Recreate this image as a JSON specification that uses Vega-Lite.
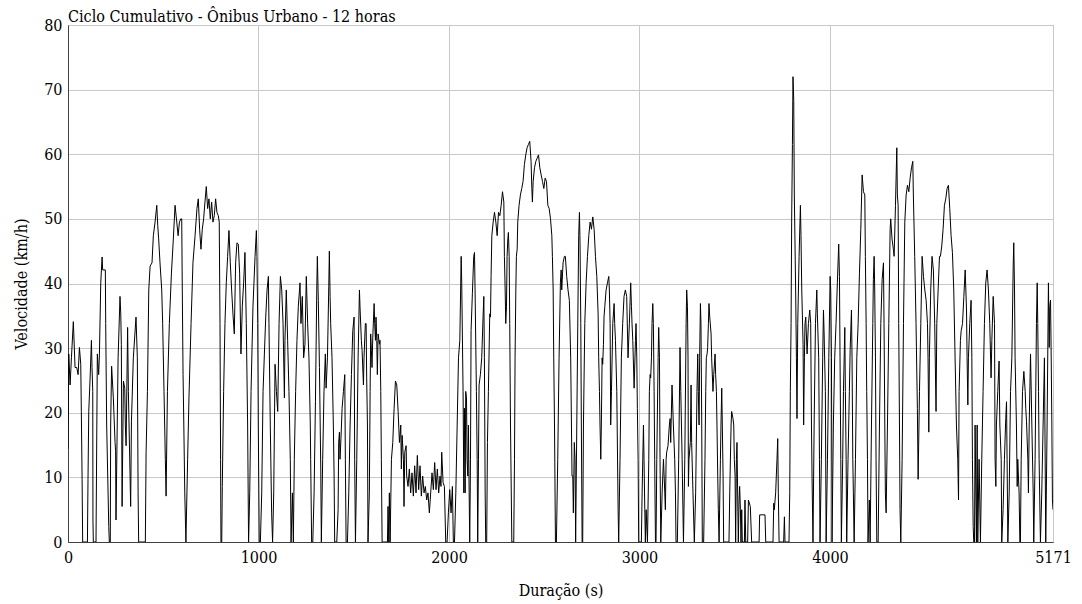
{
"$schema":"https://vega.github.io/schema/vega-lite/v6.json",
"width":985,"height":517,
"autosize":{"type":"none"},
"padding":{"left":68,"top":25,"right":29,"bottom":62},
"background":"white",
"title":{"text":"Ciclo Cumulativo - Ônibus Urbano - 12 horas","anchor":"start","frame":"group","font":"DejaVu Serif Condensed","fontSize":16,"fontWeight":"normal","color":"black","offset":3,"dy":11},
"config":{"view":{"stroke":"#808080","strokeWidth":1},"axis":{"labelFont":"DejaVu Serif Condensed","titleFont":"DejaVu Serif Condensed","labelFontSize":16,"titleFontSize":16,"titleFontWeight":"normal","labelColor":"black","titleColor":"black","domainColor":"#404040","gridColor":"#c8c8c8","gridWidth":1,"ticks":false,"labelFlush":false,"labelOverlap":false}},
"data":{"values":[
{"t":0,"v":14.4},{"t":4,"v":29.1},{"t":11,"v":24.3},{"t":18,"v":28.5},{"t":28,"v":34.1},{"t":37,"v":27},{"t":46,"v":27},{"t":53,"v":25.9},{"t":60,"v":30.1},{"t":67,"v":27.5},{"t":70,"v":20.2},{"t":74,"v":9.7},{"t":77,"v":0},{"t":102,"v":0},{"t":105,"v":9.7},{"t":109,"v":20.2},{"t":116,"v":25.4},{"t":123,"v":31.2},{"t":126,"v":27},{"t":130,"v":23.3},{"t":131,"v":3.4},{"t":133,"v":0},{"t":147,"v":0},{"t":154,"v":29.1},{"t":161,"v":25.9},{"t":165,"v":29.1},{"t":172,"v":40.1},{"t":179,"v":44.1},{"t":182,"v":42.1},{"t":196,"v":42.1},{"t":198,"v":33.8},{"t":203,"v":18.1},{"t":214,"v":2.4},{"t":217,"v":0},{"t":222,"v":0},{"t":224,"v":18.1},{"t":229,"v":27.2},{"t":238,"v":22.3},{"t":247,"v":15.4},{"t":250,"v":14.1},{"t":252,"v":3.4},{"t":263,"v":28.5},{"t":273,"v":38},{"t":277,"v":35.3},{"t":280,"v":30.6},{"t":284,"v":5.5},{"t":291,"v":24.9},{"t":298,"v":23.8},{"t":301,"v":18.1},{"t":305,"v":14.9},{"t":313,"v":33.2},{"t":317,"v":23.3},{"t":329,"v":5.5},{"t":333,"v":18.6},{"t":343,"v":28.5},{"t":357,"v":34.8},{"t":364,"v":28.5},{"t":368,"v":7.6},{"t":371,"v":0},{"t":406,"v":0},{"t":410,"v":13.9},{"t":417,"v":23.3},{"t":424,"v":39},{"t":431,"v":42.7},{"t":441,"v":43.2},{"t":448,"v":47.4},{"t":457,"v":49.5},{"t":466,"v":52.1},{"t":471,"v":49},{"t":476,"v":46.9},{"t":483,"v":43.2},{"t":492,"v":39},{"t":497,"v":33.8},{"t":504,"v":23.3},{"t":511,"v":12.8},{"t":515,"v":7.1},{"t":522,"v":23.3},{"t":532,"v":33.8},{"t":543,"v":41.6},{"t":553,"v":46.9},{"t":562,"v":52.1},{"t":571,"v":49.5},{"t":578,"v":47.4},{"t":585,"v":49.5},{"t":592,"v":50},{"t":597,"v":50},{"t":600,"v":39},{"t":604,"v":25.9},{"t":608,"v":18.1},{"t":613,"v":7.6},{"t":619,"v":0},
{"t":628,"v":12.8},{"t":635,"v":22.3},{"t":646,"v":33.8},{"t":656,"v":43.2},{"t":667,"v":47.4},{"t":677,"v":51.6},{"t":684,"v":53.1},{"t":691,"v":48.4},{"t":698,"v":45.3},{"t":705,"v":48.4},{"t":712,"v":50},{"t":719,"v":52.6},{"t":726,"v":55},{"t":733,"v":51.6},{"t":740,"v":53.1},{"t":747,"v":50},{"t":754,"v":52.6},{"t":761,"v":49.5},{"t":768,"v":50.5},{"t":775,"v":53.1},{"t":782,"v":51},{"t":789,"v":50.5},{"t":794,"v":49.5},{"t":798,"v":33.8},{"t":801,"v":12.8},{"t":803,"v":0},{"t":807,"v":0},{"t":810,"v":8.6},{"t":817,"v":23.3},{"t":824,"v":33.8},{"t":831,"v":40.1},{"t":838,"v":44.2},{"t":845,"v":48.2},{"t":852,"v":43.2},{"t":859,"v":39},{"t":866,"v":35.3},{"t":873,"v":32.2},{"t":880,"v":43.2},{"t":887,"v":46.3},{"t":894,"v":46.1},{"t":901,"v":41.6},{"t":908,"v":29.1},{"t":915,"v":36.4},{"t":922,"v":40.1},{"t":929,"v":44.8},{"t":936,"v":33.8},{"t":943,"v":18.1},{"t":948,"v":0},{"t":954,"v":7.6},{"t":961,"v":23.3},{"t":971,"v":36.4},{"t":982,"v":44.2},{"t":989,"v":48.2},{"t":992,"v":44.2},{"t":996,"v":33.8},{"t":999,"v":18.1},{"t":1004,"v":0},{"t":1010,"v":0},{"t":1017,"v":7.6},{"t":1024,"v":23.3},{"t":1031,"v":29.1},{"t":1038,"v":34.8},{"t":1045,"v":39},{"t":1052,"v":41.1},{"t":1055,"v":33.8},{"t":1062,"v":18.1},{"t":1069,"v":4.5},{"t":1074,"v":0},{"t":1080,"v":7.6},{"t":1087,"v":27.5},{"t":1094,"v":23.3},{"t":1101,"v":20.2},{"t":1108,"v":33.8},{"t":1115,"v":41.1},{"t":1122,"v":39},{"t":1129,"v":33.8},{"t":1136,"v":22.3},{"t":1139,"v":31.2},{"t":1146,"v":39},{"t":1153,"v":31.2},{"t":1160,"v":23.3},{"t":1167,"v":12.8},{"t":1171,"v":0},{"t":1178,"v":7.6},{"t":1183,"v":0},{"t":1188,"v":12.8},{"t":1195,"v":23.3},{"t":1202,"v":31.2},{"t":1209,"v":36.4},{"t":1218,"v":40.1},{"t":1223,"v":33.8},{"t":1230,"v":38},{"t":1237,"v":28.5},{"t":1244,"v":30.6},{"t":1251,"v":41.1},{"t":1258,"v":33.8},{"t":1265,"v":28.5},{"t":1272,"v":18.1},
{"t":1274,"v":12.8},{"t":1279,"v":0},{"t":1285,"v":0},{"t":1292,"v":7.6},{"t":1299,"v":21.7},{"t":1306,"v":39},{"t":1309,"v":44.2},{"t":1314,"v":37.4},{"t":1320,"v":27},{"t":1327,"v":11.3},{"t":1330,"v":0},{"t":1337,"v":12.8},{"t":1344,"v":23.3},{"t":1351,"v":29.1},{"t":1355,"v":23.8},{"t":1362,"v":28.5},{"t":1369,"v":39.5},{"t":1372,"v":45},{"t":1376,"v":38},{"t":1379,"v":33.8},{"t":1386,"v":28.5},{"t":1393,"v":18.1},{"t":1397,"v":10.2},{"t":1400,"v":0},{"t":1411,"v":0},{"t":1418,"v":5},{"t":1421,"v":15.4},{"t":1425,"v":17},{"t":1428,"v":12.8},{"t":1433,"v":16},{"t":1439,"v":20.7},{"t":1446,"v":23.3},{"t":1453,"v":25.9},{"t":1456,"v":12.8},{"t":1460,"v":0},{"t":1467,"v":0},{"t":1474,"v":7.6},{"t":1481,"v":18.1},{"t":1488,"v":25.9},{"t":1495,"v":32.7},{"t":1502,"v":34.8},{"t":1505,"v":12.8},{"t":1509,"v":0},{"t":1516,"v":12.8},{"t":1523,"v":28.5},{"t":1530,"v":39},{"t":1533,"v":36.4},{"t":1540,"v":31.2},{"t":1544,"v":29.6},{"t":1551,"v":24.3},{"t":1554,"v":28.5},{"t":1561,"v":33.8},{"t":1565,"v":33.8},{"t":1568,"v":25.4},{"t":1572,"v":18.1},{"t":1575,"v":0},{"t":1582,"v":7.6},{"t":1586,"v":23.3},{"t":1589,"v":32.2},{"t":1593,"v":29.6},{"t":1596,"v":27},{"t":1600,"v":31.7},{"t":1607,"v":36.9},{"t":1610,"v":33.8},{"t":1614,"v":31.2},{"t":1617,"v":34.8},{"t":1621,"v":31.2},{"t":1624,"v":25.9},{"t":1628,"v":32.2},{"t":1635,"v":30.6},{"t":1638,"v":31.2},{"t":1642,"v":23.3},{"t":1645,"v":12.8},{"t":1649,"v":0},{"t":1677,"v":0},{"t":1680,"v":5.5},{"t":1684,"v":0},{"t":1687,"v":7.6},{"t":1691,"v":0},{"t":1698,"v":12.8},{"t":1705,"v":15.4},{"t":1712,"v":20.7},{"t":1719,"v":24.9},{"t":1726,"v":24.3},{"t":1733,"v":20.2},{"t":1740,"v":15.4},{"t":1747,"v":18.1},{"t":1750,"v":11.3},{"t":1754,"v":16.5},{"t":1761,"v":12.8},{"t":1764,"v":5.5},{"t":1768,"v":13.9},{"t":1775,"v":14.9},{"t":1778,"v":10.2},{"t":1785,"v":8.6},{"t":1792,"v":11.3},{"t":1799,"v":7.6},{"t":1806,"v":10.7},{"t":1813,"v":7.1},{"t":1820,"v":11.8},{"t":1827,"v":7.6},{"t":1834,"v":13.4},{"t":1841,"v":8.1},{"t":1848,"v":11.8},{"t":1855,"v":7.1},{"t":1862,"v":10.2},{"t":1869,"v":7.6},{"t":1876,"v":8.6},{"t":1883,"v":6.5},{"t":1890,"v":7.6},{"t":1897,"v":4.5},{"t":1904,"v":7.6},{"t":1911,"v":10.7},{"t":1918,"v":8.1},{"t":1925,"v":12.3},{"t":1932,"v":8.1},{"t":1939,"v":11.3},{"t":1946,"v":7.6},{"t":1953,"v":10.2},
{"t":1958,"v":8.6},{"t":1962,"v":13.9},{"t":1969,"v":9.2},{"t":1976,"v":8.6},{"t":1983,"v":0},{"t":1990,"v":0},{"t":1997,"v":4.5},{"t":2004,"v":8.1},{"t":2011,"v":4.5},{"t":2018,"v":8.6},{"t":2023,"v":0},{"t":2029,"v":0},{"t":2036,"v":7.6},{"t":2043,"v":18.1},{"t":2050,"v":28.5},{"t":2057,"v":31.2},{"t":2064,"v":44.2},{"t":2067,"v":40.1},{"t":2074,"v":23.3},{"t":2078,"v":7.6},{"t":2081,"v":20.7},{"t":2085,"v":7.6},{"t":2088,"v":23.3},{"t":2092,"v":22.3},{"t":2095,"v":12.8},{"t":2099,"v":10.2},{"t":2102,"v":18.1},{"t":2106,"v":7.6},{"t":2109,"v":0},{"t":2113,"v":12.8},{"t":2116,"v":32.7},{"t":2123,"v":38.5},{"t":2130,"v":44.2},{"t":2134,"v":44.8},{"t":2137,"v":39},{"t":2144,"v":23.3},{"t":2148,"v":12.8},{"t":2151,"v":0},{"t":2155,"v":12.8},{"t":2158,"v":24.3},{"t":2165,"v":25.9},{"t":2172,"v":28.5},{"t":2179,"v":34.8},{"t":2183,"v":38},{"t":2186,"v":28.5},{"t":2190,"v":7.6},{"t":2193,"v":0},{"t":2198,"v":0},{"t":2202,"v":15.4},{"t":2207,"v":23.3},{"t":2214,"v":35.3},{"t":2218,"v":34.8},{"t":2221,"v":41.1},{"t":2225,"v":47.4},{"t":2232,"v":49.5},{"t":2239,"v":51},{"t":2246,"v":49.5},{"t":2253,"v":47.4},{"t":2260,"v":51},{"t":2267,"v":50.5},{"t":2274,"v":52.1},{"t":2281,"v":54.2},{"t":2288,"v":52.6},{"t":2291,"v":44.2},{"t":2295,"v":39},{"t":2298,"v":33.8},{"t":2302,"v":36.4},{"t":2305,"v":44.2},{"t":2309,"v":46.9},{"t":2312,"v":47.9},{"t":2316,"v":44.2},{"t":2319,"v":33.8},{"t":2323,"v":18.1},{"t":2330,"v":0},{"t":2340,"v":0},{"t":2344,"v":12.8},{"t":2347,"v":28.5},{"t":2351,"v":39},{"t":2354,"v":44.2},{"t":2358,"v":45.3},{"t":2361,"v":49.5},{"t":2368,"v":52.1},{"t":2375,"v":53.7},{"t":2382,"v":54.7},{"t":2389,"v":55.8},{"t":2396,"v":58.4},{"t":2403,"v":59.9},{"t":2410,"v":61},{"t":2417,"v":61.5},{"t":2424,"v":62},{"t":2431,"v":58.9},{"t":2435,"v":54.7},{"t":2438,"v":52.6},{"t":2442,"v":55.8},{"t":2449,"v":57.9},{"t":2456,"v":58.9},{"t":2463,"v":59.4},{"t":2470,"v":59.9},{"t":2477,"v":57.9},{"t":2484,"v":56.8},{"t":2491,"v":55.8},{"t":2498,"v":54.7},{"t":2505,"v":56.3},{"t":2512,"v":55.8},{"t":2519,"v":52.1},{"t":2526,"v":51.6},{"t":2533,"v":50},{"t":2540,"v":47.4},{"t":2543,"v":44.2},{"t":2547,"v":39},{"t":2550,"v":28.5},{"t":2554,"v":18.1},{"t":2559,"v":0},{"t":2564,"v":0},{"t":2571,"v":12.8},{"t":2578,"v":28.5},{"t":2585,"v":40.1},{"t":2589,"v":42.1},{"t":2592,"v":39},{"t":2599,"v":43.2},{"t":2606,"v":44.2},
{"t":2611,"v":44.2},{"t":2618,"v":41.1},{"t":2625,"v":39},{"t":2632,"v":37.4},{"t":2639,"v":28.5},{"t":2646,"v":10.2},{"t":2650,"v":10.2},{"t":2653,"v":4.5},{"t":2658,"v":15.4},{"t":2662,"v":12.8},{"t":2665,"v":0},{"t":2671,"v":18.1},{"t":2678,"v":39},{"t":2681,"v":47.4},{"t":2685,"v":51},{"t":2688,"v":46.3},{"t":2692,"v":33.8},{"t":2695,"v":18.1},{"t":2699,"v":0},{"t":2702,"v":0},{"t":2706,"v":18.1},{"t":2713,"v":33.8},{"t":2720,"v":40.1},{"t":2727,"v":44.2},{"t":2734,"v":47.4},{"t":2741,"v":49.5},{"t":2748,"v":48.4},{"t":2755,"v":50.3},{"t":2762,"v":48.4},{"t":2769,"v":44.2},{"t":2776,"v":41.1},{"t":2783,"v":35.3},{"t":2786,"v":28.5},{"t":2790,"v":23.3},{"t":2793,"v":18.1},{"t":2797,"v":12.8},{"t":2800,"v":18.1},{"t":2804,"v":28.5},{"t":2807,"v":27.5},{"t":2811,"v":30.6},{"t":2814,"v":34.8},{"t":2818,"v":36.4},{"t":2825,"v":39},{"t":2832,"v":40.1},{"t":2839,"v":41.1},{"t":2842,"v":39},{"t":2846,"v":33.8},{"t":2849,"v":18.1},{"t":2853,"v":23.3},{"t":2860,"v":33.8},{"t":2867,"v":36.9},{"t":2870,"v":33.8},{"t":2874,"v":31.2},{"t":2881,"v":23.3},{"t":2888,"v":5},{"t":2891,"v":0},{"t":2898,"v":12.8},{"t":2905,"v":28.5},{"t":2912,"v":33.8},{"t":2919,"v":38},{"t":2926,"v":39},{"t":2933,"v":38},{"t":2940,"v":28.5},{"t":2947,"v":33.8},{"t":2954,"v":40.1},{"t":2958,"v":36.4},{"t":2961,"v":33.8},{"t":2965,"v":31.2},{"t":2972,"v":23.8},{"t":2979,"v":31.2},{"t":2982,"v":33.8},{"t":2986,"v":28.5},{"t":2989,"v":20.7},{"t":2993,"v":12.8},{"t":2996,"v":0},{"t":3010,"v":0},{"t":3014,"v":7.6},{"t":3021,"v":18.1},{"t":3024,"v":12.8},{"t":3028,"v":5},{"t":3031,"v":0},{"t":3035,"v":5},{"t":3042,"v":0},{"t":3049,"v":12.8},{"t":3052,"v":23.3},{"t":3056,"v":25.9},{"t":3059,"v":25.4},{"t":3063,"v":28.5},{"t":3066,"v":33.8},{"t":3070,"v":36.9},{"t":3073,"v":33.8},{"t":3077,"v":23.3},{"t":3080,"v":12.8},{"t":3084,"v":0},{"t":3087,"v":0},{"t":3091,"v":12.8},{"t":3098,"v":28.5},{"t":3101,"v":33.2},{"t":3105,"v":28.5},{"t":3108,"v":12.8},{"t":3112,"v":0},{"t":3119,"v":7.6},{"t":3126,"v":12.8},{"t":3133,"v":7.6},{"t":3136,"v":5},{"t":3140,"v":12.8},{"t":3143,"v":13.9},{"t":3150,"v":14.9},{"t":3157,"v":18.1},{"t":3161,"v":19.1},{"t":3164,"v":15.4},{"t":3171,"v":24.3},{"t":3178,"v":18.1},{"t":3185,"v":12.8},{"t":3189,"v":7.6},{"t":3192,"v":0},{"t":3199,"v":0},{"t":3206,"v":12.8},{"t":3213,"v":30.1},{"t":3217,"v":23.3},{"t":3224,"v":12.8},{"t":3231,"v":0},{"t":3238,"v":12.8},{"t":3245,"v":33.8},{"t":3248,"v":39},{"t":3252,"v":36.4},{"t":3255,"v":28.5},{"t":3257,"v":8.6},{"t":3260,"v":12.8},
{"t":3267,"v":15.4},{"t":3271,"v":24.3},{"t":3274,"v":15.4},{"t":3281,"v":7.6},{"t":3288,"v":0},{"t":3295,"v":7.6},{"t":3302,"v":23.3},{"t":3306,"v":29.1},{"t":3309,"v":23.3},{"t":3313,"v":18.1},{"t":3316,"v":28.5},{"t":3320,"v":36.9},{"t":3323,"v":33.8},{"t":3327,"v":18.1},{"t":3330,"v":0},{"t":3337,"v":0},{"t":3344,"v":12.8},{"t":3348,"v":23.3},{"t":3351,"v":28.5},{"t":3355,"v":29.1},{"t":3358,"v":30.1},{"t":3362,"v":33.8},{"t":3365,"v":36.9},{"t":3369,"v":34.8},{"t":3376,"v":32.2},{"t":3379,"v":28.5},{"t":3386,"v":23.3},{"t":3390,"v":25.9},{"t":3397,"v":29.1},{"t":3400,"v":25.9},{"t":3404,"v":23.3},{"t":3407,"v":18.1},{"t":3411,"v":10.2},{"t":3414,"v":5},{"t":3418,"v":0},{"t":3425,"v":12.8},{"t":3428,"v":18.1},{"t":3432,"v":23.8},{"t":3435,"v":18.1},{"t":3439,"v":10.2},{"t":3442,"v":0},{"t":3470,"v":0},{"t":3474,"v":7.6},{"t":3481,"v":18.1},{"t":3484,"v":20.2},{"t":3491,"v":19.1},{"t":3495,"v":18.1},{"t":3498,"v":12.8},{"t":3502,"v":10.2},{"t":3505,"v":0},{"t":3509,"v":12.8},{"t":3512,"v":15.4},{"t":3516,"v":6.5},{"t":3519,"v":0},{"t":3523,"v":6.5},{"t":3526,"v":8.6},{"t":3530,"v":5},{"t":3533,"v":0},{"t":3537,"v":5},{"t":3540,"v":0},{"t":3551,"v":0},{"t":3554,"v":6.5},{"t":3558,"v":0},{"t":3568,"v":0},{"t":3572,"v":6.5},{"t":3582,"v":5.5},{"t":3589,"v":0},{"t":3628,"v":0},{"t":3631,"v":4.2},{"t":3659,"v":4.2},{"t":3663,"v":0},{"t":3701,"v":0},{"t":3705,"v":6},{"t":3708,"v":5},{"t":3712,"v":6.5},{"t":3715,"v":7.6},{"t":3722,"v":12.8},{"t":3726,"v":16},{"t":3729,"v":7.6},{"t":3733,"v":0},{"t":3757,"v":0},{"t":3761,"v":3.9},{"t":3764,"v":0},{"t":3785,"v":0},{"t":3789,"v":7.6},{"t":3792,"v":23.3},{"t":3796,"v":33.8},{"t":3799,"v":49.5},{"t":3803,"v":61.5},{"t":3806,"v":72},{"t":3810,"v":68.3},{"t":3813,"v":53.7},{"t":3820,"v":39},{"t":3824,"v":28.5},{"t":3827,"v":19.1},{"t":3831,"v":33.8},{"t":3838,"v":44.2},{"t":3845,"v":52.1},{"t":3848,"v":47.4},{"t":3852,"v":39},{"t":3859,"v":30.6},{"t":3862,"v":18.1},{"t":3866,"v":28.5},{"t":3869,"v":33.8},{"t":3873,"v":34.8},{"t":3880,"v":29.1},{"t":3887,"v":33.8},{"t":3894,"v":35.9},
{"t":3899,"v":33.8},{"t":3903,"v":18.1},{"t":3906,"v":10.2},{"t":3911,"v":0},{"t":3917,"v":18.1},{"t":3924,"v":33.8},{"t":3931,"v":39},{"t":3934,"v":35.3},{"t":3941,"v":28.5},{"t":3945,"v":12.8},{"t":3948,"v":0},{"t":3955,"v":12.8},{"t":3962,"v":28.5},{"t":3966,"v":35.9},{"t":3969,"v":32.7},{"t":3976,"v":23.3},{"t":3980,"v":0},{"t":3987,"v":12.8},{"t":3994,"v":28.5},{"t":4001,"v":41.1},{"t":4004,"v":39},{"t":4008,"v":28.5},{"t":4011,"v":0},{"t":4018,"v":18.1},{"t":4025,"v":28.5},{"t":4032,"v":33.8},{"t":4039,"v":40.1},{"t":4046,"v":46.1},{"t":4050,"v":41.1},{"t":4053,"v":28.5},{"t":4057,"v":12.8},{"t":4060,"v":0},{"t":4067,"v":12.8},{"t":4071,"v":23.3},{"t":4078,"v":33.2},{"t":4081,"v":23.3},{"t":4085,"v":12.8},{"t":4088,"v":0},{"t":4095,"v":12.8},{"t":4102,"v":23.3},{"t":4106,"v":29.6},{"t":4113,"v":35.9},{"t":4116,"v":28.5},{"t":4120,"v":12.8},{"t":4123,"v":7.6},{"t":4127,"v":0},{"t":4134,"v":12.8},{"t":4141,"v":28.5},{"t":4148,"v":33.8},{"t":4155,"v":41.6},{"t":4162,"v":48.4},{"t":4169,"v":56.8},{"t":4176,"v":54.2},{"t":4183,"v":53.7},{"t":4186,"v":44.2},{"t":4190,"v":33.8},{"t":4193,"v":23.3},{"t":4197,"v":12.8},{"t":4200,"v":0},{"t":4207,"v":6.5},{"t":4211,"v":0},{"t":4218,"v":18.1},{"t":4225,"v":33.8},{"t":4228,"v":40.6},{"t":4232,"v":44.2},{"t":4235,"v":39},{"t":4239,"v":28.5},{"t":4242,"v":12.8},{"t":4246,"v":0},{"t":4253,"v":0},{"t":4260,"v":18.1},{"t":4267,"v":33.8},{"t":4274,"v":40.6},{"t":4281,"v":43.2},{"t":4284,"v":33.8},{"t":4288,"v":18.1},{"t":4291,"v":7.6},{"t":4295,"v":4.5},{"t":4302,"v":18.1},{"t":4309,"v":33.8},{"t":4316,"v":48.4},{"t":4319,"v":50},{"t":4326,"v":46.9},{"t":4333,"v":45.3},{"t":4337,"v":44.2},{"t":4344,"v":52.1},{"t":4351,"v":61},{"t":4354,"v":53.7},{"t":4358,"v":52.1},{"t":4361,"v":33.8},{"t":4365,"v":18.1},{"t":4368,"v":5},{"t":4372,"v":0},{"t":4379,"v":12.8},{"t":4386,"v":33.8},{"t":4393,"v":49.5},{"t":4400,"v":53.7},{"t":4407,"v":55.2},{"t":4414,"v":54.2},{"t":4421,"v":56.3},{"t":4428,"v":57.9},{"t":4435,"v":58.9},{"t":4438,"v":53.7},{"t":4445,"v":44.2},{"t":4452,"v":33.8},{"t":4459,"v":20.7},{"t":4463,"v":9.7},{"t":4470,"v":23.3},{"t":4477,"v":33.8},{"t":4484,"v":44.2},{"t":4491,"v":41.1},{"t":4498,"v":39},{"t":4505,"v":37.4},{"t":4512,"v":33.8},{"t":4515,"v":28.5},{"t":4519,"v":17},{"t":4522,"v":28.5},{"t":4529,"v":39},{"t":4536,"v":44.2},{"t":4543,"v":42.1},{"t":4550,"v":33.8},{"t":4557,"v":20.2},{"t":4561,"v":33.8},{"t":4568,"v":39},{"t":4575,"v":44.2},
{"t":4580,"v":44.2},{"t":4587,"v":45.8},{"t":4594,"v":48.4},{"t":4601,"v":52.1},{"t":4608,"v":53.1},{"t":4615,"v":54.7},{"t":4622,"v":55.2},{"t":4629,"v":51.6},{"t":4636,"v":47.4},{"t":4643,"v":44.8},{"t":4650,"v":39},{"t":4657,"v":28.5},{"t":4664,"v":18.1},{"t":4671,"v":12.8},{"t":4675,"v":6.5},{"t":4678,"v":23.3},{"t":4685,"v":31.2},{"t":4689,"v":32.7},{"t":4696,"v":33.8},{"t":4703,"v":38},{"t":4710,"v":42.1},{"t":4717,"v":35.9},{"t":4720,"v":28.5},{"t":4724,"v":21.2},{"t":4727,"v":28.5},{"t":4734,"v":33.8},{"t":4741,"v":37.4},{"t":4745,"v":28.5},{"t":4748,"v":12.8},{"t":4752,"v":2.4},{"t":4755,"v":0},{"t":4759,"v":0},{"t":4762,"v":18.1},{"t":4769,"v":0},{"t":4773,"v":18.1},{"t":4776,"v":0},{"t":4783,"v":12.8},{"t":4790,"v":0},{"t":4797,"v":12.8},{"t":4804,"v":23.3},{"t":4811,"v":33.8},{"t":4818,"v":40.1},{"t":4825,"v":42.1},{"t":4832,"v":39},{"t":4839,"v":33.8},{"t":4846,"v":25.4},{"t":4850,"v":31.2},{"t":4857,"v":38},{"t":4864,"v":33.8},{"t":4867,"v":12.8},{"t":4871,"v":8.6},{"t":4874,"v":18.1},{"t":4881,"v":23.3},{"t":4888,"v":28},{"t":4892,"v":18.1},{"t":4899,"v":12.8},{"t":4902,"v":0},{"t":4909,"v":5},{"t":4916,"v":12.8},{"t":4923,"v":19.1},{"t":4927,"v":21.7},{"t":4930,"v":12.8},{"t":4934,"v":0},{"t":4941,"v":7.6},{"t":4948,"v":23.3},{"t":4955,"v":28.5},{"t":4962,"v":42.7},{"t":4965,"v":46.3},{"t":4969,"v":39},{"t":4972,"v":28.5},{"t":4979,"v":18.1},{"t":4983,"v":8.6},{"t":4986,"v":12.8},{"t":4993,"v":7.6},{"t":4997,"v":0},{"t":5000,"v":0},{"t":5004,"v":12.8},{"t":5011,"v":23.3},{"t":5018,"v":26.4},{"t":5025,"v":23.3},{"t":5028,"v":20.7},{"t":5032,"v":18.6},{"t":5039,"v":12.8},{"t":5042,"v":7.6},{"t":5046,"v":18.1},{"t":5053,"v":29.1},{"t":5060,"v":18.1},{"t":5067,"v":7.6},{"t":5070,"v":0},{"t":5077,"v":12.8},{"t":5084,"v":33.8},{"t":5088,"v":40.1},{"t":5091,"v":33.8},{"t":5095,"v":23.3},{"t":5098,"v":12.8},{"t":5105,"v":0},{"t":5112,"v":7.6},{"t":5119,"v":18.1},{"t":5126,"v":28.5},{"t":5133,"v":0},{"t":5140,"v":18.1},{"t":5147,"v":40.1},{"t":5151,"v":30.1},{"t":5154,"v":36.4},{"t":5158,"v":37.4},{"t":5161,"v":30.1},{"t":5165,"v":18.1},{"t":5168,"v":6.5},{"t":5171,"v":5}
]},
"mark":{"type":"line","color":"black","strokeWidth":1,"clip":true},
"encoding":{
"x":{"field":"t","type":"quantitative","scale":{"domain":[0,5171],"nice":false,"zero":false},"axis":{"values":[0,1000,2000,3000,4000,5171],"title":"Duração (s)","labelPadding":7,"titlePadding":17,"format":"d"}},
"y":{"field":"v","type":"quantitative","scale":{"domain":[0,80],"nice":false},"axis":{"values":[0,10,20,30,40,50,60,70,80],"title":"Velocidade (km/h)","labelPadding":6,"titlePadding":14}}
}
}
